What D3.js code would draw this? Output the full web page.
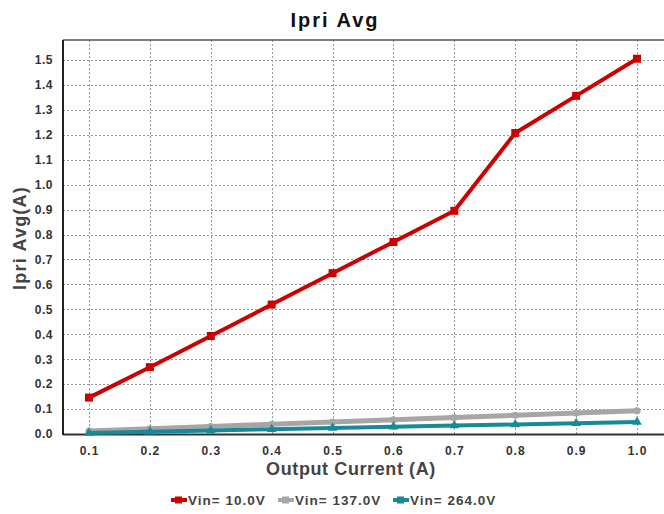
<!DOCTYPE html>
<html><head><meta charset="utf-8">
<script src="https://cdn.jsdelivr.net/npm/d3@7"></script>
<style>body{margin:0;background:#fff}svg{display:block}text{font-family:"Liberation Sans",Arial,sans-serif}</style>
</head><body>
<script>
const xValues = [0.1,0.2,0.3,0.4,0.5,0.6,0.7,0.8,0.9,1.0];
const seriesNames = ["Vin= 10.0V","Vin= 137.0V","Vin= 264.0V"];
const vin10 = [0.146,0.268,0.393,0.519,0.645,0.770,0.895,1.207,1.356,1.505];
const vin137 = [0.012,0.021,0.030,0.039,0.048,0.057,0.066,0.075,0.084,0.093];
const vin264 = [0.004,0.009,0.014,0.019,0.024,0.029,0.034,0.038,0.043,0.048];
const yTicks = [0,0.1,0.2,0.3,0.4,0.5,0.6,0.7,0.8,0.9,1.0,1.1,1.2,1.3,1.4,1.5];
const colors = ["#CC0000","#A6A6A6","#168A99"];
const series = [vin10, vin137, vin264];

const W=664,H=514;
const svg=d3.select("body").append("svg").attr("width",W).attr("height",H);
const L=63,T=40,R=664,B=434;
const x=d3.scaleLinear().domain([0.0573,1.0443]).range([L,R]);
const y=d3.scaleLinear().domain([0,1.58]).range([B,T]);

// grid
const g=svg.append("g");
g.selectAll(".gx").data(xValues).join("line")
 .attr("x1",d=>Math.round(x(d))+0.5).attr("x2",d=>Math.round(x(d))+0.5).attr("y1",T).attr("y2",B)
 .attr("stroke","#999").attr("stroke-dasharray","2,2");
g.selectAll(".gy").data(yTicks.slice(1)).join("line")
 .attr("y1",d=>Math.round(y(d))+0.5).attr("y2",d=>Math.round(y(d))+0.5).attr("x1",L).attr("x2",R)
 .attr("stroke","#999").attr("stroke-dasharray","2,2");

// frame
svg.append("line").attr("x1",L).attr("x2",R).attr("y1",T).attr("y2",T).attr("stroke","#555").attr("stroke-width",1.5);
svg.append("line").attr("x1",L).attr("x2",R).attr("y1",B+0.5).attr("y2",B+0.5).attr("stroke","#333").attr("stroke-width",2);
svg.append("line").attr("x1",L).attr("x2",L).attr("y1",T).attr("y2",B+1).attr("stroke","#222").attr("stroke-width",2);

// axes
const xa=svg.append("g").attr("transform",`translate(0,${B})`)
 .call(d3.axisBottom(x).tickValues(xValues).tickFormat(d3.format(".1f")).tickSize(0).tickPadding(12));
xa.select(".domain").remove();
xa.selectAll("text").attr("font-size",12).attr("font-weight","bold").attr("fill","#333").attr("letter-spacing",1);
const ya=svg.append("g").attr("transform",`translate(${L},0)`)
 .call(d3.axisLeft(y).tickValues(yTicks).tickFormat(d3.format(".1f")).tickSize(0).tickPadding(10));
ya.select(".domain").remove();
ya.selectAll("text").attr("font-size",12).attr("font-weight","bold").attr("fill","#333").attr("letter-spacing",0.5);

// lines
const line=d3.line().x((d,i)=>x(xValues[i])).y(d=>y(d));
const order=[1,2,0];
order.forEach(k=>{
  svg.append("path").datum(series[k]).attr("d",line).attr("fill","none")
   .attr("stroke",colors[k]).attr("stroke-width",k===1?5:4).attr("stroke-linejoin","round");
  const sym = k===0?d3.symbolSquare:(k===1?d3.symbolCircle:d3.symbolTriangle);
  const size = k===0?64:40;
  svg.append("g").selectAll("path").data(series[k]).join("path")
   .attr("transform",(d,i)=>`translate(${x(xValues[i])},${y(d)})`)
   .attr("d",d3.symbol().type(sym).size(size)).attr("fill",colors[k]);
});

// titles
svg.append("text").attr("x",335).attr("y",27).attr("text-anchor","middle")
 .attr("font-size",20).attr("font-weight","bold").attr("fill","#111").attr("letter-spacing",2).text("Ipri Avg");
svg.append("text").attr("x",351).attr("y",475).attr("text-anchor","middle")
 .attr("font-size",18).attr("font-weight","bold").attr("fill","#444").attr("letter-spacing",0.6).text("Output Current (A)");
svg.append("text").attr("transform","translate(26,238) rotate(-90)").attr("text-anchor","middle")
 .attr("font-size",18).attr("font-weight","bold").attr("fill","#444").attr("letter-spacing",1.2).text("Ipri Avg(A)");

// legend
const lg=svg.append("g");
const starts=[171,278,393];
seriesNames.forEach((n,k)=>{
  const sx=starts[k], sy=500;
  lg.append("line").attr("x1",sx).attr("x2",sx+16).attr("y1",sy).attr("y2",sy).attr("stroke",colors[k]).attr("stroke-width",4);
  lg.append("rect").attr("x",sx+4).attr("y",sy-3.5).attr("width",7).attr("height",7).attr("fill",colors[k]);
  lg.append("text").attr("x",sx+17).attr("y",sy+5).attr("font-size",13.5).attr("font-weight","bold")
   .attr("fill","#444").attr("letter-spacing",1).text(n);
});
</script>
</body></html>
